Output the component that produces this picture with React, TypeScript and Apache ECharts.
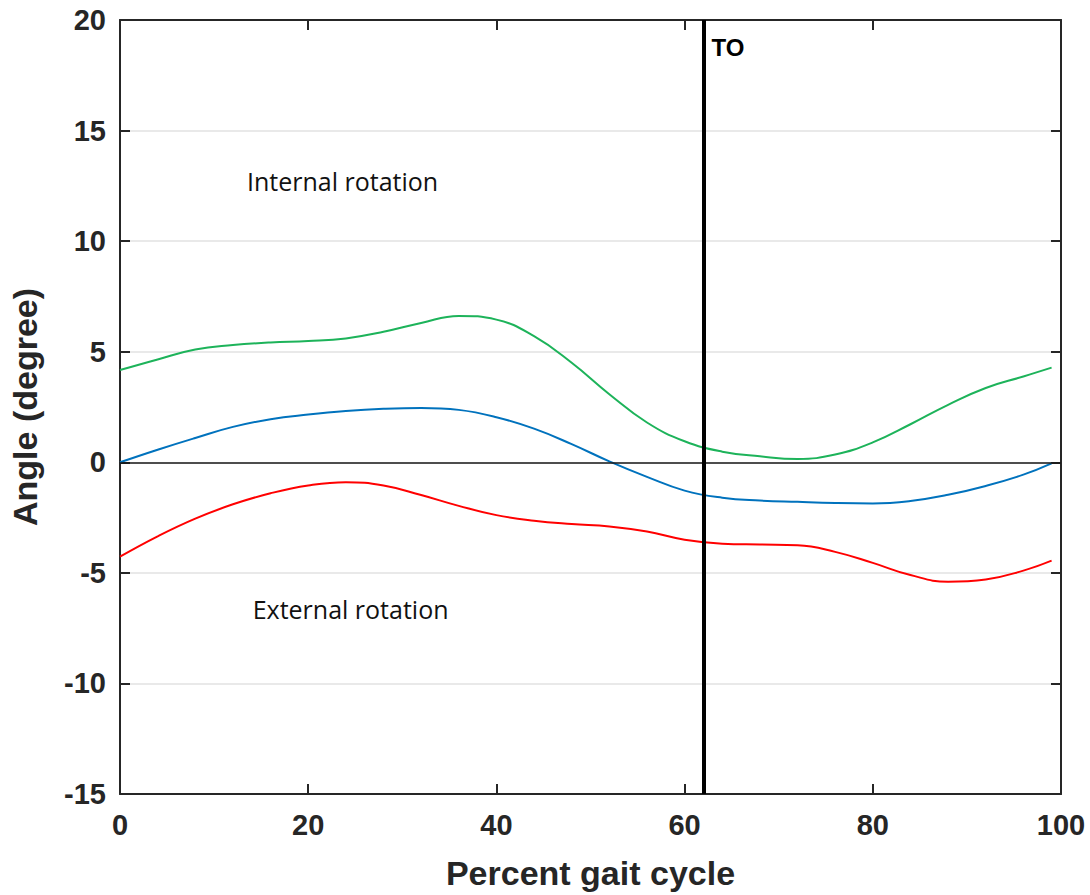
import React, { useEffect, useRef } from "react";
import * as echarts from "echarts";

// Percent of gait cycle at which each curve was sampled
const gaitPct = [0, 4, 8, 12, 16, 20, 24, 28, 32, 36, 40, 44, 48, 52, 56, 60, 64, 68, 72, 76, 80, 84, 88, 92, 96, 99];

// Mean rotation angle (degrees)
const meanAngle = [0, 0.57, 1.1, 1.6, 1.95, 2.16, 2.32, 2.42, 2.46, 2.37, 2.04, 1.52, 0.82, 0.04, -0.66, -1.28, -1.6, -1.73, -1.79, -1.84, -1.86, -1.75, -1.47, -1.07, -0.56, -0.05];

// Mean + 1 SD
const upperAngle = [4.17, 4.65, 5.1, 5.3, 5.42, 5.48, 5.6, 5.9, 6.3, 6.62, 6.45, 5.7, 4.5, 3.08, 1.8, 0.95, 0.48, 0.27, 0.15, 0.35, 0.9, 1.72, 2.6, 3.36, 3.88, 4.28];

// Mean - 1 SD
const lowerAngle = [-4.27, -3.35, -2.55, -1.9, -1.4, -1.05, -0.9, -1.05, -1.48, -1.97, -2.39, -2.64, -2.79, -2.9, -3.13, -3.5, -3.68, -3.72, -3.75, -4.05, -4.55, -5.1, -5.4, -5.3, -4.9, -4.45];

// Toe-off event (percent gait cycle)
const toeOff = 62;

const xTicks = { min: 0, max: 100, interval: 20 };
const yTicks = { min: -15, max: 20, interval: 5 };

// Annotation anchors in data coordinates
const internalLabelAt = [13.5, 12.7];
const externalLabelAt = [14.1, -6.63];

const AXIS_COLOR = "#262626";
const BOLD_FONT = "'Liberation Sans', Arial, Helvetica, sans-serif";

const pairs = (ys: number[]) => gaitPct.map((x, i) => [x, ys[i]]);

export default function App() {
  const ref = useRef<HTMLDivElement>(null);

  useEffect(() => {
    if (!ref.current) return;
    const chart = echarts.init(ref.current, null, { renderer: "svg" });

    const axisLine = { show: true, onZero: false, lineStyle: { color: AXIS_COLOR, width: 2 } };
    const axisTick = { show: true, inside: true, length: 10, lineStyle: { color: AXIS_COLOR, width: 2 } };
    const tickLabel = {
      fontSize: 29,
      fontWeight: "bold" as const,
      color: AXIS_COLOR,
      fontFamily: BOLD_FONT,
    };
    const titleStyle = { fontSize: 34, fontWeight: "bold", color: AXIS_COLOR, fontFamily: BOLD_FONT };

    const lineSeries = (name: string, ys: number[], color: string, extra: object = {}) => ({
      type: "line",
      name,
      data: pairs(ys),
      smooth: 0.45,
      showSymbol: false,
      symbol: "none",
      lineStyle: { color, width: 2 },
      z: 3,
      ...extra,
    });

    chart.setOption({
      animation: false,
      backgroundColor: "#ffffff",
      grid: { left: 119, right: 29, top: 20, bottom: 101, containLabel: false },
      xAxis: [
        {
          type: "value",
          position: "bottom",
          ...xTicks,
          axisLine,
          axisTick,
          splitLine: { show: false },
          axisLabel: { ...tickLabel, margin: 16 },
          name: "Percent gait cycle",
          nameLocation: "middle",
          nameGap: 62,
          nameTextStyle: titleStyle,
        },
        {
          type: "value",
          position: "top",
          ...xTicks,
          axisLine,
          axisTick,
          splitLine: { show: false },
          axisLabel: { show: false },
        },
      ],
      yAxis: [
        {
          type: "value",
          position: "left",
          ...yTicks,
          axisLine,
          axisTick,
          splitLine: { show: true, lineStyle: { color: "#e2e2e2", width: 1.5 } },
          axisLabel: { ...tickLabel, margin: 14 },
          name: "Angle (degree)",
          nameLocation: "middle",
          nameGap: 78,
          nameTextStyle: titleStyle,
        },
        {
          type: "value",
          position: "right",
          ...yTicks,
          axisLine,
          axisTick,
          splitLine: { show: false },
          axisLabel: { show: false },
        },
      ],
      series: [
        lineSeries("Mean + SD", upperAngle, "#1db35a"),
        lineSeries("Mean - SD", lowerAngle, "#ff0000"),
        lineSeries("Mean", meanAngle, "#0072bd", {
          markLine: {
            silent: true,
            symbol: "none",
            label: { show: false },
            data: [
              { yAxis: 0, lineStyle: { color: "#1a1a1a", width: 1.5, type: "solid" } },
              { xAxis: toeOff, lineStyle: { color: "#000000", width: 4, type: "solid" } },
            ],
          },
        }),
      ],
    });

    // Text annotations anchored to data coordinates
    const toPx = (p: number[]) => chart.convertToPixel({ gridIndex: 0 }, p) as number[];
    const toTop = toPx([toeOff, yTicks.max]);
    const internal = toPx(internalLabelAt);
    const external = toPx(externalLabelAt);
    const noteStyle = {
      fontSize: 25,
      fontFamily: "'Open Sans', 'Noto Sans', sans-serif",
      fill: "#111111",
      verticalAlign: "middle",
      align: "left",
    };
    chart.setOption({
      graphic: [
        {
          type: "text",
          x: toTop[0] + 8,
          y: toTop[1] + 27,
          style: {
            text: "TO",
            fontSize: 24,
            fontWeight: "bold",
            fontFamily: BOLD_FONT,
            fill: "#000000",
            verticalAlign: "middle",
            align: "left",
          },
          z: 10,
        },
        { type: "text", x: internal[0], y: internal[1], style: { ...noteStyle, text: "Internal rotation" }, z: 10 },
        { type: "text", x: external[0], y: external[1], style: { ...noteStyle, text: "External rotation" }, z: 10 },
      ],
    });

    return () => chart.dispose();
  }, []);

  return (
    <div
      ref={ref}
      style={{ position: "fixed", left: 0, top: 0, width: 1090, height: 895, background: "#fff" }}
    />
  );
}
